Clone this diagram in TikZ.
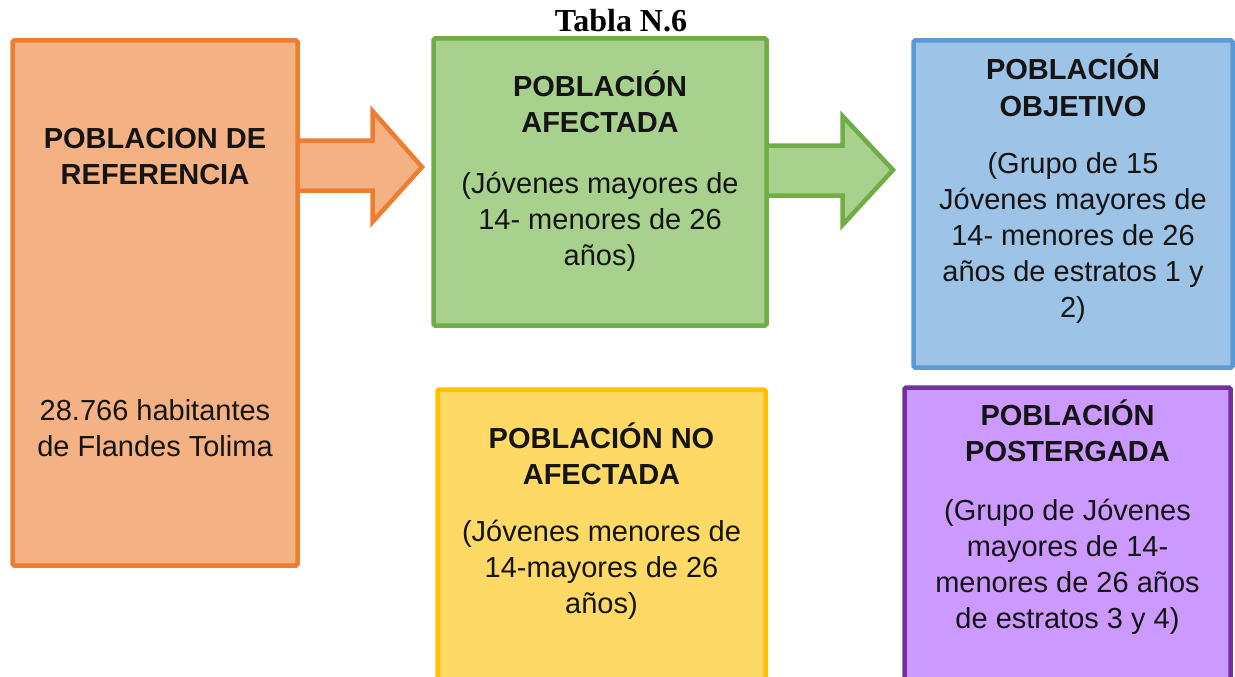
\documentclass[tikz,border=0pt]{standalone}
\usepackage{fontspec}
\setmainfont{Liberation Sans}
\newfontfamily\titlefont{Liberation Serif}
\usetikzlibrary{calc}
\definecolor{orF}{HTML}{F4B183}\definecolor{orD}{HTML}{ED7D31}
\definecolor{grF}{HTML}{A9D18E}\definecolor{grD}{HTML}{70AD47}
\definecolor{blF}{HTML}{9DC3E6}\definecolor{blD}{HTML}{5B9BD5}
\definecolor{yeF}{HTML}{FFD966}\definecolor{yeD}{HTML}{FFC000}
\definecolor{puF}{HTML}{CC99FF}\definecolor{puD}{HTML}{7030A0}
\tikzset{
  box/.style={draw, line width=4.5pt, rounded corners=1.5pt, inner sep=0pt, rectangle},
  txt/.style={anchor=base, inner sep=0pt, font=\fontsize{29}{36}\selectfont, text=black!92},
  bigarrow/.style={line width=4.5pt, line join=miter, miter limit=10}
}
\newcommand{\blockt}[2]{\parbox[t]{#1pt}{\centering #2}}
\begin{document}
\begin{tikzpicture}[x=1pt,y=-1pt]
\path[use as bounding box] (0,0) rectangle (1235,677);
\clip (0,0) rectangle (1235,677);
% boxes
\node[box, draw=orD, fill=orF, minimum width=285pt, minimum height=525pt] (ref) at (155,303) {};
\node[box, draw=grD, fill=grF, minimum width=333pt, minimum height=287pt] (afe) at (600,182) {};
\node[box, draw=blD, fill=blF, minimum width=319pt, minimum height=327pt] (obj) at (1073,204) {};
\node[box, draw=yeD, fill=yeF, minimum width=328pt, minimum height=310.5pt] (noa) at (601.5,544.75) {};
\node[box, draw=puD, fill=puF, minimum width=326pt, minimum height=312.5pt] (pos) at (1067.5,543.75) {};
% arrows
\draw[bigarrow, draw=orD, fill=orF]
  (ref.east |- 0,140.5) -- (372.5,140.5) -- (372.5,111) -- (422,167)
  -- (372.5,222) -- (372.5,190.5) -- (ref.east |- 0,190.5);
\draw[bigarrow, draw=grD, fill=grF]
  (afe.east |- 0,145.5) -- (842.5,145.5) -- (842.5,116) -- (893,170)
  -- (842.5,225) -- (842.5,195.5) -- (afe.east |- 0,195.5);
% title
\node[anchor=base, inner sep=0pt, font=\titlefont\bfseries\fontsize{32}{36}\selectfont] (title) at (621,32) {Tabla N.6};
% texts
\node[txt] (refT) at (155,148) {\blockt{280}{\bfseries POBLACION DE\\REFERENCIA}};
\node[txt] (refB) at (155,420) {\blockt{280}{28.766 habitantes\\de Flandes Tolima}};
\node[txt] (afeT) at (600,96) {\blockt{320}{\bfseries POBLACIÓN\\AFECTADA}};
\node[txt] (afeB) at (600,193) {\blockt{320}{(Jóvenes mayores de\\14- menores de 26\\años)}};
\node[txt] (objT) at (1073,80) {\blockt{310}{\bfseries POBLACIÓN\\OBJETIVO}};
\node[txt] (objB) at (1073,173) {\blockt{310}{(Grupo de 15\\Jóvenes mayores de\\14- menores de 26\\años de estratos 1 y\\2)}};
\node[txt] (noaT) at (601.5,448) {\blockt{320}{\bfseries POBLACIÓN NO\\AFECTADA}};
\node[txt] (noaB) at (601.5,541) {\blockt{320}{(Jóvenes menores de\\14-mayores de 26\\años)}};
\node[txt] (posT) at (1067.5,425) {\blockt{320}{\bfseries POBLACIÓN\\POSTERGADA}};
\node[txt] (posB) at (1067.5,520) {\blockt{320}{(Grupo de Jóvenes\\mayores de 14-\\menores de 26 años\\de estratos 3 y 4)}};
\end{tikzpicture}
\end{document}
